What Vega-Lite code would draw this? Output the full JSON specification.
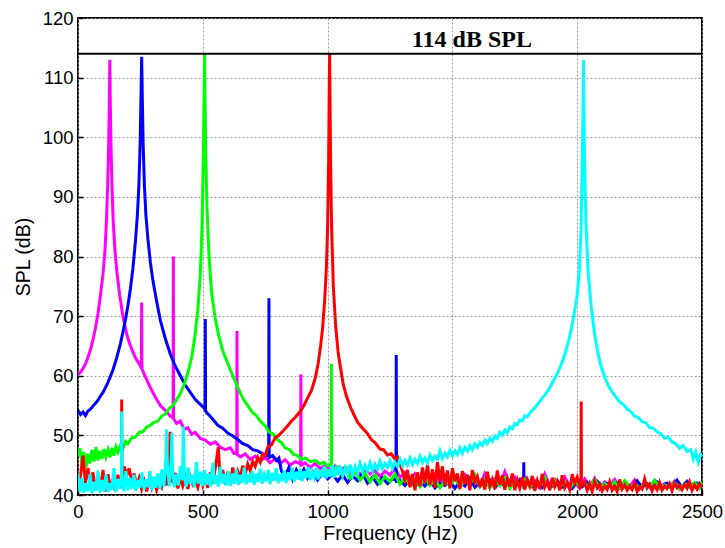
{
"$schema": "https://vega.github.io/schema/vega-lite/v6.json",
"width": 624, "height": 477,
"autosize": "none",
"padding": {"left": 78, "top": 18, "right": 23, "bottom": 53},
"background": "white",
"config": {"view": {"stroke": "black", "strokeWidth": 2}, "font": "Liberation Sans"},
"datasets": {
"m": [{"f":0,"v":60.2},{"f":10,"v":60.6},{"f":20,"v":61.2},{"f":30,"v":62},{"f":40,"v":63.1},{"f":50,"v":64.4},{"f":60,"v":66},{"f":70,"v":68},{"f":80,"v":70.4},{"f":90,"v":73.5},{"f":100,"v":77},{"f":108,"v":81},{"f":114,"v":86},{"f":119,"v":92},{"f":123,"v":99},{"f":126,"v":107},{"f":127.5,"v":113},{"f":129,"v":107},{"f":132,"v":99},{"f":136,"v":92},{"f":141,"v":86},{"f":148,"v":81},{"f":157,"v":77},{"f":167,"v":73.5},{"f":180,"v":70},{"f":195,"v":67},{"f":210,"v":65},{"f":230,"v":63},{"f":245,"v":62},{"f":254,"v":61.3},{"f":255,"v":72.3},{"f":256,"v":61.2},{"f":270,"v":59.8},{"f":290,"v":58},{"f":310,"v":56.4},{"f":330,"v":55},{"f":350,"v":54.2},{"f":370,"v":53.2},{"f":381,"v":53},{"f":382,"v":80},{"f":383,"v":52.8},{"f":395,"v":52},{"f":410,"v":52.4},{"f":425,"v":51},{"f":440,"v":51.3},{"f":455,"v":50.2},{"f":470,"v":50.5},{"f":490,"v":49.5},{"f":510,"v":49.2},{"f":530,"v":48.5},{"f":550,"v":48.9},{"f":570,"v":48},{"f":590,"v":47.6},{"f":610,"v":47.9},{"f":625,"v":47},{"f":636,"v":47.1},{"f":637,"v":67.5},{"f":638,"v":46.8},{"f":650,"v":46.4},{"f":670,"v":46.9},{"f":690,"v":46},{"f":710,"v":46.5},{"f":730,"v":45.7},{"f":750,"v":46.3},{"f":770,"v":45.4},{"f":790,"v":46.1},{"f":810,"v":45.3},{"f":830,"v":45.9},{"f":850,"v":45},{"f":870,"v":45.6},{"f":892,"v":45.2},{"f":893,"v":60.2},{"f":894,"v":45},{"f":910,"v":45.4},{"f":930,"v":44.6},{"f":950,"v":45.3},{"f":970,"v":44.4},{"f":990,"v":45},{"f":1010,"v":44.2},{"f":1030,"v":44.9},{"f":1050,"v":44},{"f":1070,"v":44.7},{"f":1090,"v":43.7},{"f":1110,"v":44.4},{"f":1130,"v":43.4},{"f":1150,"v":44.3},{"f":1170,"v":43.5},{"f":1190,"v":44.1},{"f":1210,"v":43.1},{"f":1230,"v":44},{"f":1250,"v":43.3},{"f":1270,"v":44.6},{"f":1290,"v":42.9},{"f":1310,"v":43.8},{"f":1330,"v":42.7},{"f":1350,"v":43.6},{"f":1370,"v":42.4},{"f":1390,"v":43.4},{"f":1410,"v":42.5},{"f":1430,"v":43.5},{"f":1450,"v":42},{"f":1470,"v":43.2},{"f":1490,"v":41.8},{"f":1510,"v":43},{"f":1530,"v":42.2},{"f":1550,"v":43.4},{"f":1570,"v":41.9},{"f":1590,"v":42.8},{"f":1610,"v":41.5},{"f":1630,"v":43.6},{"f":1650,"v":42},{"f":1670,"v":42.7},{"f":1690,"v":41.6},{"f":1710,"v":43.9},{"f":1730,"v":41.8},{"f":1750,"v":43},{"f":1770,"v":41.4},{"f":1790,"v":42.9},{"f":1810,"v":41.7},{"f":1830,"v":42.4},{"f":1850,"v":41.2},{"f":1870,"v":43.5},{"f":1890,"v":41.6},{"f":1910,"v":42.6},{"f":1930,"v":41.3},{"f":1950,"v":43},{"f":1970,"v":41.5},{"f":1990,"v":42.3},{"f":2010,"v":41.1},{"f":2030,"v":42.7},{"f":2050,"v":41.4},{"f":2070,"v":42.8},{"f":2090,"v":41},{"f":2110,"v":42.2},{"f":2130,"v":41.5},{"f":2150,"v":42.6},{"f":2170,"v":41.2},{"f":2190,"v":42.1},{"f":2210,"v":41.4},{"f":2230,"v":42.5},{"f":2250,"v":41},{"f":2270,"v":42},{"f":2290,"v":41.3},{"f":2310,"v":42.4},{"f":2330,"v":41.1},{"f":2350,"v":41.9},{"f":2370,"v":41.4},{"f":2390,"v":42.3},{"f":2410,"v":41},{"f":2430,"v":41.8},{"f":2450,"v":41.3},{"f":2470,"v":42},{"f":2490,"v":41.1},{"f":2500,"v":41.6}],
"b": [{"f":0,"v":54.2},{"f":10,"v":53.5},{"f":20,"v":53.9},{"f":30,"v":53.3},{"f":40,"v":54.1},{"f":50,"v":54.4},{"f":60,"v":54.9},{"f":70,"v":55.4},{"f":80,"v":55.9},{"f":90,"v":56.6},{"f":100,"v":57.2},{"f":110,"v":58},{"f":120,"v":58.9},{"f":130,"v":59.9},{"f":140,"v":61},{"f":150,"v":62.3},{"f":160,"v":63.8},{"f":170,"v":65.4},{"f":180,"v":67.3},{"f":190,"v":69.4},{"f":200,"v":71.8},{"f":210,"v":74.6},{"f":220,"v":78},{"f":230,"v":82.5},{"f":238,"v":87},{"f":244,"v":92},{"f":249,"v":99},{"f":252,"v":106},{"f":255,"v":113.5},{"f":258,"v":106},{"f":261,"v":99},{"f":266,"v":92},{"f":272,"v":87},{"f":280,"v":83},{"f":290,"v":79},{"f":300,"v":76},{"f":315,"v":72.5},{"f":330,"v":69.3},{"f":350,"v":66.2},{"f":370,"v":63.6},{"f":390,"v":61.6},{"f":410,"v":60},{"f":430,"v":58.4},{"f":450,"v":57.2},{"f":470,"v":56},{"f":490,"v":55.2},{"f":505,"v":54.6},{"f":509,"v":54.3},{"f":510,"v":69.5},{"f":511,"v":54.1},{"f":525,"v":53.4},{"f":540,"v":52.7},{"f":560,"v":51.7},{"f":580,"v":51.2},{"f":600,"v":50.4},{"f":620,"v":49.9},{"f":640,"v":49.3},{"f":660,"v":48.6},{"f":680,"v":48.3},{"f":700,"v":47.6},{"f":720,"v":47.4},{"f":740,"v":46.9},{"f":755,"v":46.6},{"f":764,"v":46.5},{"f":765,"v":73},{"f":766,"v":46.3},{"f":780,"v":46.6},{"f":795,"v":45.8},{"f":805,"v":46.2},{"f":815,"v":44},{"f":830,"v":43.2},{"f":845,"v":44.6},{"f":860,"v":42.6},{"f":875,"v":44.2},{"f":890,"v":43},{"f":905,"v":44.3},{"f":920,"v":42.8},{"f":940,"v":43.9},{"f":960,"v":42.5},{"f":980,"v":43.7},{"f":1000,"v":42.7},{"f":1020,"v":43.5},{"f":1040,"v":42.3},{"f":1060,"v":43.4},{"f":1080,"v":42.1},{"f":1100,"v":43.2},{"f":1120,"v":42.4},{"f":1140,"v":43.6},{"f":1160,"v":42},{"f":1180,"v":43},{"f":1200,"v":41.8},{"f":1220,"v":42.9},{"f":1240,"v":41.9},{"f":1260,"v":42.7},{"f":1274,"v":42.5},{"f":1275,"v":63.5},{"f":1276,"v":42.3},{"f":1290,"v":42.4},{"f":1310,"v":41.6},{"f":1330,"v":42.6},{"f":1350,"v":41.4},{"f":1370,"v":42.3},{"f":1390,"v":41.5},{"f":1410,"v":42.5},{"f":1430,"v":41.2},{"f":1450,"v":42},{"f":1470,"v":41.6},{"f":1490,"v":42.4},{"f":1510,"v":41.1},{"f":1530,"v":42.2},{"f":1550,"v":41.5},{"f":1570,"v":42.8},{"f":1590,"v":41.3},{"f":1610,"v":42.1},{"f":1630,"v":41.6},{"f":1650,"v":42.5},{"f":1670,"v":41.2},{"f":1690,"v":42.2},{"f":1710,"v":41.5},{"f":1730,"v":42.4},{"f":1750,"v":41.7},{"f":1770,"v":42.6},{"f":1785,"v":41.8},{"f":1786,"v":45.5},{"f":1787,"v":41.6},{"f":1800,"v":42.1},{"f":1820,"v":41.4},{"f":1840,"v":42.3},{"f":1860,"v":41.2},{"f":1880,"v":42},{"f":1900,"v":41.5},{"f":1920,"v":42.4},{"f":1940,"v":41.3},{"f":1960,"v":41.9},{"f":1980,"v":41.1},{"f":2000,"v":42.2},{"f":2020,"v":41.4},{"f":2040,"v":42.1},{"f":2060,"v":41.2},{"f":2080,"v":42.3},{"f":2100,"v":41.5},{"f":2120,"v":41.9},{"f":2140,"v":41.1},{"f":2160,"v":42},{"f":2180,"v":41.4},{"f":2200,"v":41.8},{"f":2220,"v":41.2},{"f":2240,"v":42.4},{"f":2260,"v":41.3},{"f":2280,"v":41.9},{"f":2300,"v":41.1},{"f":2320,"v":42.2},{"f":2340,"v":41.5},{"f":2360,"v":42},{"f":2380,"v":41.2},{"f":2400,"v":42.5},{"f":2420,"v":41.3},{"f":2440,"v":42.3},{"f":2460,"v":41.4},{"f":2480,"v":42},{"f":2500,"v":41.5}],
"g": [{"f":0,"v":46.5},{"f":8,"v":47.8},{"f":16,"v":45},{"f":24,"v":47.2},{"f":32,"v":44.6},{"f":40,"v":46.9},{"f":48,"v":45.3},{"f":56,"v":47.6},{"f":64,"v":45.6},{"f":72,"v":48},{"f":80,"v":45.8},{"f":88,"v":47.4},{"f":96,"v":46.1},{"f":104,"v":47.7},{"f":112,"v":46.4},{"f":120,"v":47.6},{"f":128,"v":46.3},{"f":136,"v":47.9},{"f":144,"v":46.6},{"f":152,"v":48.1},{"f":160,"v":47.2},{"f":170,"v":48.3},{"f":180,"v":47.8},{"f":190,"v":49},{"f":200,"v":48.6},{"f":215,"v":49.6},{"f":230,"v":49.7},{"f":245,"v":50.5},{"f":260,"v":50.6},{"f":275,"v":51.4},{"f":290,"v":51.7},{"f":305,"v":52.2},{"f":320,"v":52.4},{"f":335,"v":53.2},{"f":350,"v":53.6},{"f":365,"v":54.5},{"f":380,"v":55},{"f":395,"v":56},{"f":410,"v":57},{"f":425,"v":58.5},{"f":440,"v":60.5},{"f":455,"v":63},{"f":468,"v":66.5},{"f":480,"v":71},{"f":490,"v":77},{"f":497,"v":85},{"f":502,"v":97},{"f":505,"v":106},{"f":507,"v":114},{"f":509,"v":106},{"f":512,"v":97},{"f":517,"v":88},{"f":525,"v":80},{"f":535,"v":74},{"f":550,"v":69.5},{"f":565,"v":66.5},{"f":580,"v":64.2},{"f":597,"v":62.4},{"f":615,"v":60.5},{"f":630,"v":59},{"f":645,"v":57.6},{"f":663,"v":56},{"f":680,"v":55},{"f":700,"v":53.8},{"f":715,"v":53.3},{"f":730,"v":52.4},{"f":750,"v":51.6},{"f":765,"v":50.6},{"f":780,"v":50.3},{"f":798,"v":49.3},{"f":815,"v":48.8},{"f":830,"v":47.9},{"f":848,"v":47.6},{"f":863,"v":46.8},{"f":880,"v":46.6},{"f":895,"v":46},{"f":912,"v":46.2},{"f":930,"v":45.6},{"f":950,"v":45.8},{"f":970,"v":45.2},{"f":985,"v":45.5},{"f":1000,"v":44.9},{"f":1014,"v":45},{"f":1015,"v":62},{"f":1016,"v":44.8},{"f":1030,"v":44.2},{"f":1045,"v":44.7},{"f":1060,"v":43.3},{"f":1075,"v":44.4},{"f":1090,"v":42.8},{"f":1110,"v":43.9},{"f":1130,"v":42.5},{"f":1150,"v":43.6},{"f":1170,"v":42.2},{"f":1190,"v":43.4},{"f":1210,"v":41.9},{"f":1230,"v":43.1},{"f":1250,"v":42.2},{"f":1270,"v":43.5},{"f":1290,"v":41.8},{"f":1310,"v":43},{"f":1330,"v":41.6},{"f":1350,"v":42.7},{"f":1370,"v":41.4},{"f":1390,"v":42.9},{"f":1410,"v":41.6},{"f":1430,"v":42.6},{"f":1450,"v":41.2},{"f":1470,"v":42.4},{"f":1490,"v":41.5},{"f":1510,"v":43.1},{"f":1530,"v":41.3},{"f":1550,"v":42.5},{"f":1570,"v":41.7},{"f":1590,"v":43.4},{"f":1610,"v":41.4},{"f":1630,"v":42.6},{"f":1650,"v":41.2},{"f":1670,"v":42.3},{"f":1690,"v":41.6},{"f":1710,"v":42.8},{"f":1730,"v":41.1},{"f":1750,"v":42.2},{"f":1770,"v":41.5},{"f":1790,"v":42.6},{"f":1810,"v":41.3},{"f":1830,"v":42},{"f":1850,"v":41.6},{"f":1870,"v":42.9},{"f":1890,"v":41.2},{"f":1910,"v":42.4},{"f":1930,"v":41.4},{"f":1950,"v":42.1},{"f":1970,"v":41.1},{"f":1990,"v":42.3},{"f":2010,"v":41.5},{"f":2030,"v":42},{"f":2050,"v":41.2},{"f":2070,"v":42.6},{"f":2090,"v":41.3},{"f":2110,"v":41.9},{"f":2130,"v":41.5},{"f":2150,"v":42.2},{"f":2170,"v":41.1},{"f":2190,"v":42.4},{"f":2210,"v":41.3},{"f":2230,"v":41.8},{"f":2250,"v":41.1},{"f":2270,"v":42},{"f":2290,"v":41.4},{"f":2310,"v":42.5},{"f":2330,"v":41.2},{"f":2350,"v":41.7},{"f":2370,"v":41.3},{"f":2390,"v":42.1},{"f":2410,"v":41},{"f":2430,"v":41.9},{"f":2450,"v":41.4},{"f":2470,"v":42.1},{"f":2490,"v":41.2},{"f":2500,"v":42.3}],
"r": [{"f":0,"v":41.5},{"f":10,"v":43.2},{"f":20,"v":46.6},{"f":30,"v":42},{"f":40,"v":44.5},{"f":50,"v":41.3},{"f":60,"v":43.8},{"f":70,"v":40.8},{"f":80,"v":42.6},{"f":90,"v":41.2},{"f":100,"v":44.2},{"f":110,"v":40.6},{"f":120,"v":43.5},{"f":130,"v":41},{"f":140,"v":42.7},{"f":150,"v":40.7},{"f":160,"v":43.4},{"f":170,"v":41.2},{"f":174,"v":42},{"f":175,"v":56},{"f":176,"v":42.2},{"f":185,"v":44.8},{"f":195,"v":43.2},{"f":205,"v":44.5},{"f":215,"v":42.3},{"f":225,"v":43.6},{"f":235,"v":41.4},{"f":245,"v":42.8},{"f":255,"v":41},{"f":265,"v":42.3},{"f":275,"v":40.6},{"f":285,"v":42.5},{"f":295,"v":41.2},{"f":305,"v":42.7},{"f":315,"v":40.8},{"f":325,"v":42.1},{"f":335,"v":41.3},{"f":345,"v":43.6},{"f":355,"v":41.6},{"f":365,"v":45},{"f":369,"v":50.6},{"f":372,"v":44},{"f":380,"v":42},{"f":390,"v":43.7},{"f":400,"v":41.1},{"f":410,"v":42.8},{"f":420,"v":41.5},{"f":430,"v":42.9},{"f":440,"v":41},{"f":450,"v":43.1},{"f":460,"v":41.8},{"f":470,"v":42.5},{"f":480,"v":41.3},{"f":490,"v":43.2},{"f":500,"v":41.6},{"f":510,"v":42.9},{"f":520,"v":41.2},{"f":530,"v":43.8},{"f":540,"v":41.9},{"f":550,"v":44.5},{"f":562,"v":48},{"f":570,"v":42.6},{"f":580,"v":44.2},{"f":590,"v":41.8},{"f":600,"v":43.9},{"f":610,"v":42.2},{"f":620,"v":44.6},{"f":630,"v":42.5},{"f":640,"v":44},{"f":650,"v":42.8},{"f":660,"v":44.9},{"f":670,"v":43.5},{"f":680,"v":45.2},{"f":690,"v":44.1},{"f":700,"v":45.6},{"f":710,"v":44.8},{"f":720,"v":46.3},{"f":730,"v":45.5},{"f":740,"v":46.9},{"f":750,"v":46.6},{"f":760,"v":48},{"f":775,"v":48.4},{"f":790,"v":49.6},{"f":805,"v":50},{"f":823,"v":50.8},{"f":840,"v":51.6},{"f":855,"v":52.4},{"f":870,"v":53},{"f":890,"v":54},{"f":905,"v":55},{"f":920,"v":56.3},{"f":935,"v":57.5},{"f":950,"v":59.5},{"f":962,"v":62},{"f":972,"v":65},{"f":980,"v":68},{"f":988,"v":72.5},{"f":995,"v":78},{"f":1000,"v":85},{"f":1004,"v":96},{"f":1006,"v":105},{"f":1008,"v":114},{"f":1010,"v":105},{"f":1012,"v":96},{"f":1016,"v":85},{"f":1023,"v":75},{"f":1032,"v":68.5},{"f":1042,"v":64},{"f":1051,"v":61.5},{"f":1063,"v":58.5},{"f":1076,"v":56.5},{"f":1091,"v":54.8},{"f":1105,"v":53.5},{"f":1120,"v":52.2},{"f":1140,"v":51.2},{"f":1158,"v":50.4},{"f":1175,"v":49.3},{"f":1190,"v":48.8},{"f":1210,"v":47.7},{"f":1224,"v":47.6},{"f":1240,"v":46.7},{"f":1255,"v":46.9},{"f":1270,"v":46},{"f":1280,"v":46.4},{"f":1290,"v":45.2},{"f":1300,"v":44},{"f":1310,"v":42.5},{"f":1320,"v":44.2},{"f":1330,"v":41.3},{"f":1340,"v":43.5},{"f":1350,"v":40.8},{"f":1360,"v":43.8},{"f":1370,"v":41.5},{"f":1380,"v":44.6},{"f":1390,"v":42},{"f":1400,"v":45.1},{"f":1410,"v":41.7},{"f":1420,"v":44.3},{"f":1430,"v":41.2},{"f":1440,"v":45.5},{"f":1450,"v":42.4},{"f":1460,"v":44.8},{"f":1470,"v":41.6},{"f":1480,"v":44.1},{"f":1490,"v":41.1},{"f":1500,"v":44.5},{"f":1510,"v":42.3},{"f":1520,"v":43.6},{"f":1530,"v":41},{"f":1540,"v":44},{"f":1550,"v":41.8},{"f":1560,"v":43.4},{"f":1570,"v":40.8},{"f":1580,"v":44.2},{"f":1590,"v":42.2},{"f":1600,"v":43.1},{"f":1610,"v":41.3},{"f":1620,"v":42.8},{"f":1630,"v":40.9},{"f":1640,"v":43.9},{"f":1650,"v":41.5},{"f":1660,"v":42.6},{"f":1670,"v":41},{"f":1680,"v":44.1},{"f":1690,"v":41.7},{"f":1700,"v":43.3},{"f":1710,"v":40.9},{"f":1720,"v":42.7},{"f":1730,"v":41.4},{"f":1740,"v":43.6},{"f":1750,"v":40.8},{"f":1760,"v":42.5},{"f":1770,"v":41.2},{"f":1780,"v":43},{"f":1790,"v":40.9},{"f":1800,"v":42.6},{"f":1810,"v":41.5},{"f":1820,"v":43.2},{"f":1830,"v":40.7},{"f":1840,"v":42.4},{"f":1850,"v":41.1},{"f":1860,"v":43.5},{"f":1870,"v":41.3},{"f":1880,"v":42.2},{"f":1890,"v":40.8},{"f":1900,"v":42.9},{"f":1910,"v":41.4},{"f":1920,"v":42.3},{"f":1930,"v":40.8},{"f":1940,"v":43.3},{"f":1950,"v":41.2},{"f":1960,"v":42},{"f":1970,"v":40.9},{"f":1980,"v":43.5},{"f":1990,"v":42},{"f":2000,"v":43},{"f":2010,"v":41.5},{"f":2015,"v":42},{"f":2016,"v":55.7},{"f":2017,"v":41.5},{"f":2030,"v":42.1},{"f":2040,"v":40.8},{"f":2050,"v":41.9},{"f":2060,"v":40.6},{"f":2070,"v":42.3},{"f":2080,"v":41.2},{"f":2090,"v":41.8},{"f":2100,"v":40.7},{"f":2110,"v":41.5},{"f":2120,"v":40.9},{"f":2130,"v":42.2},{"f":2140,"v":40.8},{"f":2150,"v":41.4},{"f":2160,"v":40.6},{"f":2170,"v":42.6},{"f":2180,"v":41},{"f":2190,"v":41.7},{"f":2200,"v":40.8},{"f":2210,"v":41.5},{"f":2220,"v":40.9},{"f":2230,"v":42},{"f":2240,"v":40.6},{"f":2250,"v":41.4},{"f":2260,"v":41},{"f":2270,"v":42.7},{"f":2280,"v":41.2},{"f":2290,"v":41.8},{"f":2300,"v":40.7},{"f":2310,"v":41.6},{"f":2320,"v":40.9},{"f":2330,"v":42.1},{"f":2340,"v":40.8},{"f":2350,"v":41.5},{"f":2360,"v":41.1},{"f":2370,"v":41.9},{"f":2380,"v":40.7},{"f":2390,"v":42},{"f":2400,"v":41.2},{"f":2410,"v":41.6},{"f":2420,"v":40.9},{"f":2430,"v":41.8},{"f":2440,"v":41.1},{"f":2450,"v":42.2},{"f":2460,"v":40.8},{"f":2470,"v":41.7},{"f":2480,"v":41},{"f":2490,"v":41.9},{"f":2500,"v":41.3}],
"c": [{"f":0,"v":43.6},{"f":8,"v":40.5},{"f":16,"v":42.8},{"f":24,"v":40.4},{"f":32,"v":41.9},{"f":40,"v":40.6},{"f":48,"v":43.5},{"f":56,"v":40.3},{"f":64,"v":42.2},{"f":72,"v":40.7},{"f":80,"v":44.1},{"f":88,"v":40.4},{"f":96,"v":42.5},{"f":104,"v":40.6},{"f":112,"v":43.4},{"f":120,"v":40.5},{"f":128,"v":42},{"f":136,"v":40.8},{"f":144,"v":44.5},{"f":152,"v":40.5},{"f":160,"v":42.7},{"f":168,"v":41},{"f":174,"v":43},{"f":175,"v":54},{"f":176,"v":43.5},{"f":184,"v":40.6},{"f":192,"v":44},{"f":200,"v":40.8},{"f":208,"v":42.9},{"f":216,"v":41},{"f":224,"v":43.4},{"f":232,"v":40.7},{"f":240,"v":42.5},{"f":248,"v":41.2},{"f":256,"v":43.8},{"f":264,"v":40.9},{"f":272,"v":42.6},{"f":280,"v":41.3},{"f":288,"v":44},{"f":296,"v":40.8},{"f":304,"v":43.1},{"f":312,"v":41.2},{"f":320,"v":43.6},{"f":328,"v":41},{"f":336,"v":44.3},{"f":344,"v":41.4},{"f":352,"v":46},{"f":355,"v":51},{"f":358,"v":45},{"f":366,"v":41.5},{"f":374,"v":46.5},{"f":376,"v":50.4},{"f":379,"v":44},{"f":386,"v":41.3},{"f":394,"v":43.5},{"f":402,"v":41.6},{"f":410,"v":44.8},{"f":418,"v":42.5},{"f":422,"v":51.5},{"f":426,"v":43},{"f":434,"v":41.4},{"f":442,"v":44.6},{"f":450,"v":41.8},{"f":458,"v":43.4},{"f":466,"v":41.3},{"f":474,"v":45.5},{"f":482,"v":41.9},{"f":490,"v":43.9},{"f":498,"v":41.5},{"f":506,"v":44.2},{"f":514,"v":41.7},{"f":522,"v":43.6},{"f":530,"v":41.4},{"f":538,"v":44.4},{"f":542,"v":45.4},{"f":546,"v":41.8},{"f":554,"v":43.3},{"f":562,"v":41.4},{"f":570,"v":44.7},{"f":578,"v":41.9},{"f":586,"v":43.5},{"f":594,"v":41.6},{"f":602,"v":44},{"f":610,"v":41.5},{"f":618,"v":43.6},{"f":626,"v":41.9},{"f":634,"v":44.3},{"f":642,"v":41.7},{"f":650,"v":43.4},{"f":658,"v":42},{"f":666,"v":44.6},{"f":674,"v":41.8},{"f":682,"v":43.5},{"f":690,"v":42.1},{"f":698,"v":44},{"f":706,"v":41.7},{"f":714,"v":43.6},{"f":722,"v":42.2},{"f":730,"v":44.4},{"f":738,"v":41.9},{"f":746,"v":43.4},{"f":754,"v":42.3},{"f":762,"v":44.2},{"f":770,"v":41.8},{"f":778,"v":43.7},{"f":786,"v":42.4},{"f":794,"v":44.5},{"f":802,"v":42},{"f":810,"v":43.5},{"f":818,"v":42.3},{"f":826,"v":44.1},{"f":834,"v":42},{"f":842,"v":43.8},{"f":850,"v":42.5},{"f":858,"v":44.6},{"f":866,"v":42.2},{"f":874,"v":43.9},{"f":882,"v":42.6},{"f":890,"v":44.4},{"f":898,"v":42.3},{"f":906,"v":44},{"f":914,"v":42.8},{"f":922,"v":44.7},{"f":930,"v":42.5},{"f":938,"v":43.9},{"f":946,"v":42.9},{"f":954,"v":44.5},{"f":962,"v":42.6},{"f":970,"v":44.2},{"f":978,"v":43},{"f":986,"v":44.8},{"f":994,"v":42.8},{"f":1002,"v":44.3},{"f":1010,"v":43.1},{"f":1018,"v":45},{"f":1026,"v":42.9},{"f":1034,"v":44.4},{"f":1042,"v":43.3},{"f":1050,"v":44.9},{"f":1060,"v":43.2},{"f":1070,"v":44.6},{"f":1080,"v":43.5},{"f":1090,"v":45.1},{"f":1100,"v":43.4},{"f":1110,"v":44.8},{"f":1120,"v":43.7},{"f":1130,"v":45.3},{"f":1140,"v":43.9},{"f":1150,"v":45},{"f":1160,"v":44},{"f":1170,"v":45.4},{"f":1180,"v":44.1},{"f":1190,"v":45.2},{"f":1200,"v":44.3},{"f":1210,"v":45.7},{"f":1220,"v":44.4},{"f":1230,"v":45.3},{"f":1240,"v":44.6},{"f":1250,"v":45.8},{"f":1260,"v":44.5},{"f":1270,"v":45.5},{"f":1280,"v":44.8},{"f":1290,"v":46},{"f":1300,"v":44.9},{"f":1310,"v":45.8},{"f":1320,"v":45},{"f":1330,"v":46.2},{"f":1340,"v":45.1},{"f":1350,"v":46},{"f":1360,"v":45.3},{"f":1370,"v":46.5},{"f":1380,"v":45.4},{"f":1390,"v":46.2},{"f":1400,"v":45.4},{"f":1410,"v":46.7},{"f":1420,"v":45.8},{"f":1430,"v":46.5},{"f":1440,"v":46},{"f":1450,"v":47.4},{"f":1460,"v":46.1},{"f":1470,"v":47},{"f":1480,"v":46.4},{"f":1490,"v":47.5},{"f":1500,"v":46.6},{"f":1510,"v":47.4},{"f":1520,"v":46.8},{"f":1530,"v":47.9},{"f":1540,"v":47},{"f":1550,"v":48},{"f":1560,"v":47.4},{"f":1570,"v":48.3},{"f":1580,"v":47.6},{"f":1590,"v":48.6},{"f":1600,"v":48},{"f":1610,"v":48.8},{"f":1620,"v":48.3},{"f":1630,"v":49.2},{"f":1640,"v":48.6},{"f":1650,"v":49.5},{"f":1660,"v":49},{"f":1670,"v":49.9},{"f":1680,"v":49.5},{"f":1690,"v":50.5},{"f":1700,"v":50},{"f":1710,"v":50.9},{"f":1720,"v":50.5},{"f":1730,"v":51.4},{"f":1740,"v":51.1},{"f":1750,"v":52},{"f":1760,"v":51.8},{"f":1770,"v":52.6},{"f":1780,"v":52.4},{"f":1790,"v":53.3},{"f":1800,"v":53.1},{"f":1815,"v":54},{"f":1830,"v":54.6},{"f":1845,"v":55.4},{"f":1860,"v":56.3},{"f":1875,"v":57},{"f":1890,"v":58},{"f":1905,"v":59.2},{"f":1920,"v":60.3},{"f":1935,"v":61.8},{"f":1950,"v":63.5},{"f":1962,"v":65.3},{"f":1975,"v":67.5},{"f":1988,"v":70.5},{"f":2000,"v":73.5},{"f":2008,"v":77.5},{"f":2015,"v":84},{"f":2020,"v":95},{"f":2023,"v":104},{"f":2025,"v":113},{"f":2027,"v":104},{"f":2030,"v":95},{"f":2035,"v":86},{"f":2043,"v":78},{"f":2055,"v":72},{"f":2068,"v":67.5},{"f":2082,"v":64},{"f":2096,"v":61.5},{"f":2110,"v":59.8},{"f":2125,"v":58.3},{"f":2140,"v":57.3},{"f":2155,"v":56.4},{"f":2170,"v":55.6},{"f":2185,"v":55.2},{"f":2200,"v":54.4},{"f":2215,"v":54},{"f":2230,"v":53.2},{"f":2245,"v":53},{"f":2260,"v":52.3},{"f":2275,"v":52.1},{"f":2290,"v":51.3},{"f":2305,"v":51.2},{"f":2320,"v":50.6},{"f":2335,"v":50.3},{"f":2350,"v":49.5},{"f":2365,"v":49.7},{"f":2380,"v":48.9},{"f":2395,"v":48.6},{"f":2410,"v":47.8},{"f":2425,"v":48.3},{"f":2440,"v":47.3},{"f":2455,"v":47.6},{"f":2465,"v":46},{"f":2475,"v":47.2},{"f":2485,"v":45.5},{"f":2495,"v":46.8},{"f":2500,"v":46.5}]
},
"layer": [
{"data": {"name": "m"}, "mark": {"type": "line", "color": "#ff00ff", "strokeWidth": 3, "clip": true},
 "encoding": {
  "x": {"field": "f", "type": "quantitative", "scale": {"domain": [0, 2500], "nice": false},
        "axis": {"values": [0, 500, 1000, 1500, 2000, 2500], "format": "d", "title": "Frequency (Hz)", "grid": true, "gridDash": [2, 2], "gridColor": "#9a9a9a", "gridWidth": 1, "gridOpacity": 1, "domain": false, "tickSize": -5, "tickColor": "black", "tickWidth": 1.5, "labelPadding": 12, "labelFontSize": 18.5, "labelColor": "black", "titleFontSize": 19.5, "titleFontWeight": "normal", "titleColor": "black", "titlePadding": 4, "labelFlush": false}},
  "y": {"field": "v", "type": "quantitative", "scale": {"domain": [40, 120], "nice": false},
        "axis": {"values": [40, 50, 60, 70, 80, 90, 100, 110, 120], "title": "SPL (dB)", "grid": true, "gridDash": [2, 2], "gridColor": "#9a9a9a", "gridWidth": 1, "gridOpacity": 1, "domain": false, "tickSize": -5, "tickColor": "black", "tickWidth": 1.5, "labelPadding": 10, "labelFontSize": 18.5, "labelColor": "black", "titleFontSize": 19.5, "titleFontWeight": "normal", "titleColor": "black", "titlePadding": 9, "labelFlush": false}}
 }},
{"data": {"name": "b"}, "mark": {"type": "line", "color": "#0000ff", "strokeWidth": 3, "clip": true},
 "encoding": {"x": {"field": "f", "type": "quantitative"}, "y": {"field": "v", "type": "quantitative"}}},
{"data": {"name": "g"}, "mark": {"type": "line", "color": "#00ff00", "strokeWidth": 3, "clip": true},
 "encoding": {"x": {"field": "f", "type": "quantitative"}, "y": {"field": "v", "type": "quantitative"}}},
{"data": {"name": "r"}, "mark": {"type": "line", "color": "#ff0000", "strokeWidth": 3, "clip": true},
 "encoding": {"x": {"field": "f", "type": "quantitative"}, "y": {"field": "v", "type": "quantitative"}}},
{"data": {"name": "c"}, "mark": {"type": "line", "color": "#00ffff", "strokeWidth": 3, "clip": true},
 "encoding": {"x": {"field": "f", "type": "quantitative"}, "y": {"field": "v", "type": "quantitative"}}},
{"data": {"values": [{"y": 114}]}, "mark": {"type": "rule", "color": "black", "strokeWidth": 2},
 "encoding": {"y": {"field": "y", "type": "quantitative"}}},
{"data": {"values": [{"x": 1578, "y": 115.1, "t": "114 dB SPL"}]}, "mark": {"type": "text", "font": "Liberation Serif", "fontWeight": "bold", "fontSize": 24, "color": "black", "baseline": "alphabetic", "align": "center"},
 "encoding": {"x": {"field": "x", "type": "quantitative"}, "y": {"field": "y", "type": "quantitative"}, "text": {"field": "t"}}}
]
}
